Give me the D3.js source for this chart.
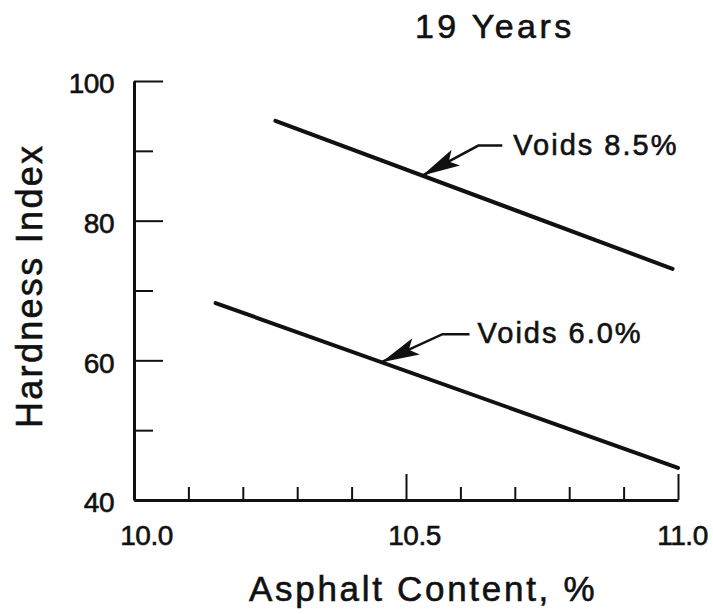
<!DOCTYPE html>
<html>
<head>
<meta charset="utf-8">
<script src="https://cdn.jsdelivr.net/npm/d3@7"></script>
<style>
  html, body { margin: 0; padding: 0; background: #fff; }
  svg { display: block; }
  text { font-family: "Liberation Sans", Arial, Helvetica, sans-serif; fill: #111; stroke: #111; stroke-width: 0.6px; }
</style>
</head>
<body>
<svg id="chart" width="713" height="614"></svg>
<script>
// Hardness index vs asphalt content after 19 years, one line per void content
const seriesNames = ["Voids 8.5%", "Voids 6.0%"];
const asphalt85 = [10.26, 10.99];
const hardness85 = [94.3, 73.1];
const asphalt60 = [10.15, 11.0];
const hardness60 = [68.2, 44.6];
// asphalt content where each callout arrow touches its line
const calloutAt = [10.53, 10.455];

const xMajorTicks = [10.0, 10.5, 11.0];
const xMinorTicks = [10.1, 10.2, 10.3, 10.4, 10.6, 10.7, 10.8, 10.9];
const yMajorTicks = [40, 60, 80, 100];
const yMinorTicks = [50, 70, 90];

const svg = d3.select("#chart");
const ink = "#111";

const x = d3.scaleLinear().domain([10.0, 11.0]).range([134, 678]);
const y = d3.scaleLinear().domain([40, 100]).range([500, 81]);

// title
svg.append("text")
  .attr("x", 415).attr("y", 38)
  .style("font-size", "34px").style("letter-spacing", "3.4px")
  .text("19 Years");

// x axis: minor ticks, then major ticks with labels and the axis line
svg.append("g")
  .attr("transform", "translate(0,500)")
  .call(d3.axisBottom(x).tickValues(xMinorTicks).tickSize(-13).tickFormat(""))
  .call(g => g.select(".domain").remove())
  .call(g => g.selectAll("line").attr("stroke", ink).attr("stroke-width", 2));

const xAxis = svg.append("g")
  .attr("transform", "translate(0,500)")
  .call(d3.axisBottom(x).tickValues(xMajorTicks).tickSize(-26).tickSizeOuter(0)
    .tickPadding(25).tickFormat(d3.format(".1f")));
xAxis.select(".domain").attr("stroke", ink).attr("stroke-width", 3);
xAxis.selectAll("line").attr("stroke", ink).attr("stroke-width", 2);
xAxis.selectAll("text")
  .attr("dx", (d, i) => [12, 8, 4][i])
  .attr("fill", ink)
  .style("font-size", "28px").style("letter-spacing", "-0.5px")
  .style("font-family", "'Liberation Sans', Arial, sans-serif");

// y axis
svg.append("g")
  .attr("transform", "translate(134,0)")
  .call(d3.axisLeft(y).tickValues(yMinorTicks).tickSize(-19).tickFormat(""))
  .call(g => g.select(".domain").remove())
  .call(g => g.selectAll("line").attr("stroke", ink).attr("stroke-width", 2));

const yAxis = svg.append("g")
  .attr("transform", "translate(134,0)")
  .call(d3.axisLeft(y).tickValues(yMajorTicks).tickSize(-29).tickSizeOuter(0)
    .tickPadding(20).tickFormat(d3.format("d")));
yAxis.select(".domain").attr("stroke", ink).attr("stroke-width", 3);
yAxis.selectAll("line").attr("stroke", ink).attr("stroke-width", 2);
yAxis.selectAll("text").attr("dy", "0.42em").attr("fill", ink)
  .style("font-size", "28px").style("letter-spacing", "-0.5px")
  .style("font-family", "'Liberation Sans', Arial, sans-serif");

// axis titles
svg.append("text")
  .attr("x", 249).attr("y", 601)
  .style("font-size", "35px").style("letter-spacing", "2.7px")
  .text("Asphalt Content, %");

svg.append("text")
  .attr("transform", "translate(42,428) rotate(-90)")
  .style("font-size", "36px").style("letter-spacing", "2.3px")
  .text("Hardness Index");

// data lines
const line = d3.line().x(d => x(d[0])).y(d => y(d[1]));
const seriesData = [
  d3.zip(asphalt85, hardness85),
  d3.zip(asphalt60, hardness60)
];
svg.selectAll("path.series")
  .data(seriesData)
  .join("path")
  .attr("class", "series")
  .attr("d", line)
  .attr("fill", "none")
  .attr("stroke", ink)
  .attr("stroke-width", 4)
  .attr("stroke-linecap", "round");

// callouts: leader with an arrowhead pointing at the line, plus label
const callouts = [
  { elbow: [56, -30], run: 24, gap: 11 },
  { elbow: [61, -28], run: 27, gap: 8 }
];
seriesData.forEach((pts, i) => {
  const xs = calloutAt[i];
  const interp = d3.scaleLinear().domain([pts[0][0], pts[1][0]]).range([pts[0][1], pts[1][1]]);
  const tx = x(xs), ty = y(interp(xs));
  const c = callouts[i];
  const ex = tx + c.elbow[0], ey = ty + c.elbow[1];
  const hx = ex + c.run;
  svg.append("path")
    .attr("d", `M${tx},${ty}L${ex},${ey}L${hx},${ey}`)
    .attr("fill", "none").attr("stroke", ink).attr("stroke-width", 2.5);
  const ang = Math.atan2(ey - ty, ex - tx) * 180 / Math.PI;
  svg.append("path")
    .attr("transform", `translate(${tx},${ty}) rotate(${ang})`)
    .attr("d", "M0,0L38,9L30,0L38,-9Z")
    .attr("fill", ink);
  svg.append("text")
    .attr("x", hx + c.gap).attr("y", ey + 9)
    .style("font-size", "29px").style("letter-spacing", "2px")
    .text(seriesNames[i]);
});
</script>
</body>
</html>
